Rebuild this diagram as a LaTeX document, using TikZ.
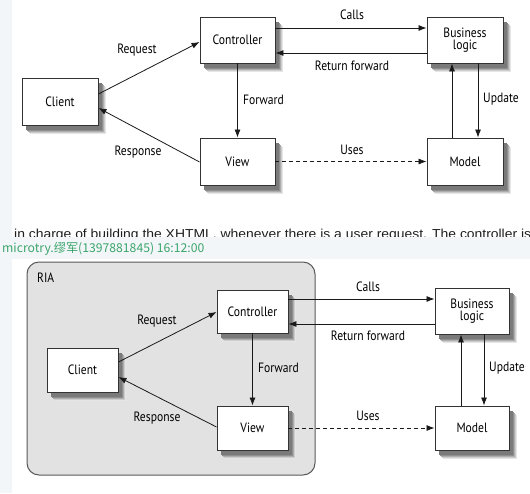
\documentclass[tikz,border=0pt]{standalone}
\usepackage{fontspec}
\usetikzlibrary{arrows.meta,calc}
\newfontfamily\diag[FakeStretch=0.86]{PT Sans}
\newfontfamily\bodyfont[FakeStretch=1.07]{Liberation Sans}
\newfontfamily\cjk{Noto Sans CJK SC}
\definecolor{stripbg}{HTML}{F3F6F9}
\definecolor{chatgreen}{HTML}{3BA56B}
\definecolor{riafill}{HTML}{E2E2E2}
\definecolor{boxline}{HTML}{333333}
\definecolor{shA}{HTML}{E6E6E6}
\definecolor{shB}{HTML}{CCCCCC}
\definecolor{shC}{HTML}{ADADAD}
\definecolor{shD}{HTML}{8F8F8F}
\definecolor{shE}{HTML}{7A7A7A}
% shadow behind a box: centre x, centre y, width, height
\newcommand\shbox[4]{%
  \fill[shA] ({#1-#3/2+8},{#2-#4/2+9}) rectangle ({#1+#3/2+8},{#2+#4/2+9});
  \fill[shB] ({#1-#3/2+7},{#2-#4/2+8}) rectangle ({#1+#3/2+7},{#2+#4/2+8});
  \fill[shC] ({#1-#3/2+6},{#2-#4/2+7}) rectangle ({#1+#3/2+6},{#2+#4/2+7});
  \fill[shD] ({#1-#3/2+5},{#2-#4/2+6}) rectangle ({#1+#3/2+5},{#2+#4/2+6});
  \fill[shE] ({#1-#3/2+4},{#2-#4/2+5}) rectangle ({#1+#3/2+4},{#2+#4/2+5});}
\tikzset{
  bx/.style={draw=boxline,fill=white,line width=0.9pt,inner sep=0pt,
    font=\diag\fontsize{13.5}{14}\selectfont,align=center},
  arr/.style={draw=black!90,line width=0.8pt,-{Latex[length=8pt,width=6pt]}},
  dsh/.style={arr,dash pattern=on 4pt off 3pt},
  lbl/.style={font=\diag\fontsize{13.5}{14}\selectfont,inner sep=0pt},
}
\begin{document}
\begin{tikzpicture}[x=1pt,y=-1pt]
\useasboundingbox (0,0) rectangle (530,493);
\fill[white] (0,0) rectangle (530,493);
\fill[stripbg] (0,0) rectangle (12,493);
% ---------- top diagram ----------
\shbox{60}{101.5}{76}{47}
\shbox{237.5}{40}{75}{46}
\shbox{237.5}{161.5}{75}{47}
\shbox{465}{40}{76}{46}
\shbox{465}{161.5}{76}{47}
\node[bx,minimum width=76pt,minimum height=47pt] (c1) at (60,101.5) {Client};
\node[bx,minimum width=75pt,minimum height=46pt] (k1) at (237.5,40) {Controller};
\node[bx,minimum width=75pt,minimum height=47pt] (v1) at (237.5,161.5) {View};
\node[bx,minimum width=76pt,minimum height=46pt] (b1) at (465,40) {Business\\[-2pt]logic};
\node[bx,minimum width=76pt,minimum height=47pt] (m1) at (465,161.5) {Model};
\draw[arr] ($(c1.east)+(0,-7.5)$) -- ($(k1.west)+(0,2)$);
\draw[arr] ($(v1.west)+(0,0.5)$) -- ($(c1.east)+(0,6.5)$);
\draw[arr] (k1.south) -- (v1.north);
\draw[arr] ($(k1.east)+(0,-12)$) -- ($(b1.west)+(0,-12)$);
\draw[arr] ($(b1.west)+(0,13)$) -- ($(k1.east)+(0,13)$);
\draw[arr] ($(b1.south)+(13,0)$) -- ($(m1.north)+(13,0)$);
\draw[arr] ($(m1.north)+(-13,0)$) -- ($(b1.south)+(-13,0)$);
\draw[dsh] (v1.east) -- (m1.west);
\node[lbl] (t1) at (137,50) {Request};
\node[lbl] (t2) at (138,152) {Response};
\node[lbl,anchor=west] (t3) at (243,100) {Forward};
\node[lbl] (t4) at (352,15) {Calls};
\node[lbl] (t5) at (352,66) {Return forward};
\node[lbl] (t6) at (501,99) {Update};
\node[lbl] (t7) at (352,150) {Uses};
% ---------- text strip ----------
\node[anchor=base west,inner sep=0pt,font=\bodyfont\fontsize{13}{14}\selectfont,text=black!88] (para) at (14,238.5)
  {in charge of building the XHTML, whenever there is a user request. The controller is};
\fill[stripbg] (0,237) rectangle (530,259);
\node[anchor=base west,inner sep=0pt,font=\cjk\fontsize{12.2}{13}\selectfont,text=chatgreen] (chat) at (2,252.5)
  {microtry.缪军(1397881845) 16:12:00};
% ---------- lower diagram ----------
\draw[draw=black!65,fill=riafill,line width=1pt,rounded corners=12pt] (27,262) rectangle (315,475);
\node[lbl,anchor=west] (ria) at (37,278) {RIA};
\shbox{82.5}{370}{71}{44}
\shbox{252.5}{311.5}{71}{43}
\shbox{252.5}{428}{71}{44}
\shbox{472}{311}{74}{46}
\shbox{472}{428}{74}{44}
\node[bx,minimum width=71pt,minimum height=44pt] (c2) at (82.5,370) {Client};
\node[bx,minimum width=71pt,minimum height=43pt] (k2) at (252.5,311.5) {Controller};
\node[bx,minimum width=71pt,minimum height=44pt] (v2) at (252.5,428) {View};
\node[bx,minimum width=74pt,minimum height=46pt] (b2) at (472,311) {Business\\[-2pt]logic};
\node[bx,minimum width=74pt,minimum height=44pt] (m2) at (472,428) {Model};
\draw[arr] ($(c2.east)+(0,-8)$) -- ($(k2.west)+(0,0.5)$);
\draw[arr] ($(v2.west)+(0,-1)$) -- ($(c2.east)+(0,7)$);
\draw[arr] (k2.south) -- (v2.north);
\draw[arr] ($(k2.east)+(0,-12.5)$) -- ($(b2.west)+(0,-12)$);
\draw[arr] ($(b2.west)+(0,13)$) -- ($(k2.east)+(0,12.5)$);
\draw[arr] ($(b2.south)+(12,0)$) -- ($(m2.north)+(12,0)$);
\draw[arr] ($(m2.north)+(-11,0)$) -- ($(b2.south)+(-11,0)$);
\draw[dsh] (v2.east) -- (m2.west);
\node[lbl] (u1) at (157,321) {Request};
\node[lbl] (u2) at (157,418) {Response};
\node[lbl,anchor=west] (u3) at (258,368) {Forward};
\node[lbl] (u4) at (368,287) {Calls};
\node[lbl] (u5) at (368,336) {Return forward};
\node[lbl] (u6) at (507,368) {Update};
\node[lbl] (u7) at (368,416) {Uses};
\end{tikzpicture}
\end{document}
